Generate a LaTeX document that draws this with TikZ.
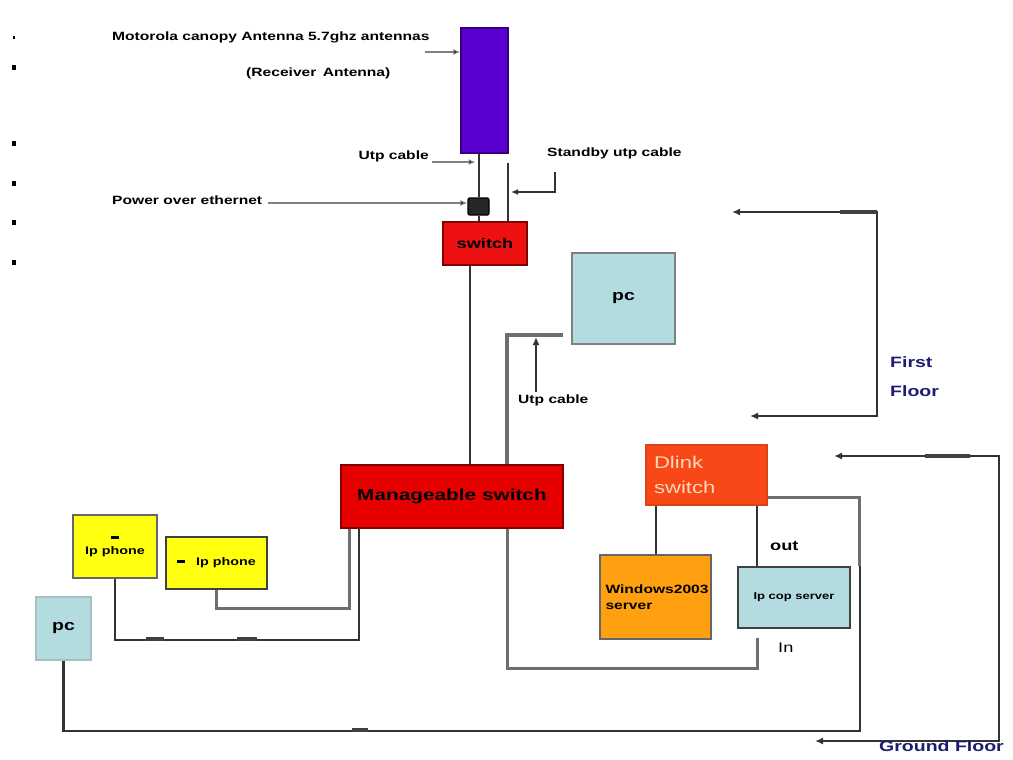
\documentclass[tikz,border=0pt]{standalone}
\usepackage{fontspec}
\setmainfont{Liberation Sans}
\newfontfamily\wf[FakeStretch=1.3]{Liberation Sans}
\usetikzlibrary{arrows.meta,calc}
\definecolor{antpurple}{HTML}{5A00D0}
\definecolor{swred}{HTML}{EE1111}
\definecolor{mgred}{HTML}{E60000}
\definecolor{pcblue}{HTML}{B3DCE0}
\definecolor{phyellow}{HTML}{FFFF10}
\definecolor{dlorange}{HTML}{F84818}
\definecolor{winorange}{HTML}{FFA010}
\definecolor{navytxt}{HTML}{1C1C70}
\definecolor{wirec}{HTML}{333333}
\definecolor{gwirec}{HTML}{6E6E6E}
\definecolor{peach}{HTML}{FFD8BC}
\begin{document}
\begin{tikzpicture}[x=1pt,y=-1pt,
  box/.style={draw=black!70, line width=1.4pt, inner sep=0pt, align=center},
  lbl/.style={font=\wf\bfseries\fontsize{12}{13}\selectfont, inner sep=0pt},
  wire/.style={draw=wirec, line width=2pt},
  gwire/.style={draw=gwirec, line width=3.4pt},
  arr/.style={draw=wirec, line width=2pt, {Latex[length=8pt,width=7pt]}-{Latex[length=8pt,width=7pt]}},
  thinarr/.style={draw=gray, line width=1.1pt, -{Latex[length=7pt,width=6pt,fill=black]}},
  blk/.style={draw=black!75, line width=4.2pt}]
\useasboundingbox (0,0) rectangle (1013,760);

% bullets
\fill (12.5,36) rectangle (15,39);
\foreach \yy in {68,143,183,222,262} \fill (12,\yy-2.5) rectangle (16,\yy+2.5);

% boxes
\node[box, fill=antpurple, draw=antpurple!60!black, minimum width=47pt, minimum height=125pt] (ant) at (484.5,90.5) {};
\node[box, fill=swred, draw=red!50!black, minimum width=84pt, minimum height=43pt, font=\wf\bfseries\fontsize{14}{15}\selectfont] (sw) at (485,243.5) {switch};
\node[box, fill=pcblue, draw=gray, minimum width=103pt, minimum height=91pt, font=\wf\bfseries\fontsize{15}{16}\selectfont] (pcT) at (623.5,298.5) {pc};
\node[box, fill=mgred, draw=red!50!black, minimum width=222pt, minimum height=63pt, font=\wf\bfseries\fontsize{16}{17}\selectfont] (mgmt) at (452,496.5) {Manageable switch};
\node[box, fill=phyellow, draw=black!60, minimum width=84pt, minimum height=63pt, font=\wf\bfseries\fontsize{11}{16}\selectfont] (phone1) at (115,546.5) {\rule{8pt}{3pt}\\Ip phone};
\node[box, fill=phyellow, draw=black!75, line width=1.8pt, minimum width=101pt, minimum height=52pt, font=\wf\bfseries\fontsize{11}{12}\selectfont] (phone2) at (216.5,563) {\rule[2.5pt]{8pt}{3pt}\quad Ip phone};
\node[box, fill=pcblue, draw=pcblue!70!gray, minimum width=55pt, minimum height=63pt, font=\wf\bfseries\fontsize{15}{16}\selectfont] (pcBL) at (63.5,628.5) {pc};
\node[box, fill=dlorange, draw=dlorange!90!black, minimum width=121pt, minimum height=60pt, text width=105pt, align=left, text=peach, font=\wf\fontsize{17}{25}\selectfont] (dlink) at (706.5,475) {Dlink\\switch};
\node[box, fill=winorange, draw=black!60, minimum width=111pt, minimum height=84pt, text width=100pt, align=left, font=\wf\bfseries\fontsize{12}{16}\selectfont] (win) at (655.5,597) {Windows2003\\server};
\node[box, fill=pcblue, draw=black!75, line width=1.8pt, minimum width=112pt, minimum height=61pt, font=\wf\bfseries\fontsize{10}{11}\selectfont] (ipcop) at (794,597.5) {Ip cop server};
\node[box, fill=black!85, draw=black, rounded corners=2pt, minimum width=21pt, minimum height=17pt] (poe) at (478.5,206.5) {};

% coordinates
\coordinate (motA) at (425,52);
\coordinate (utpA) at (432,162);
\coordinate (sbtop) at (508,163);
\coordinate (sbb) at (555,172);
\coordinate (sbc) at (511,192);
\coordinate (poeA) at (268,203);
\coordinate (pcw) at (563,335);
\coordinate (mgx) at (507,0);
\coordinate (utp2) at (536,392);
\coordinate (ipo) at ($(ipcop.north west)+(20,0)$);
\coordinate (ipi) at ($(ipcop.south west)+(20,9)$);
\coordinate (ffa) at (732,212);
\coordinate (ff1) at (877,212);
\coordinate (ff2) at (877,416);
\coordinate (ffb) at (750,416);
\coordinate (gfa) at (834,456);
\coordinate (gf1) at (999,456);
\coordinate (gf2) at (999,741);
\coordinate (gfb) at (815,741);

% connectors at top
\draw[thinarr] (motA) -- (ant.west |- motA);
\draw[wire] (poe |- ant.south) -- (poe.north);
\draw[wire] (poe.south) -- (poe |- sw.north);
\draw[thinarr] (utpA) -- ([xshift=-3pt]poe |- utpA);
\draw[wire, line width=1.6pt] (sbtop) -- (sbtop |- sw.north);
\draw[draw=wirec, line width=1.5pt, -{Latex[length=7pt,width=6pt]}] (sbb) |- (sbc);
\draw[thinarr] (poeA) -- (poe.west |- poeA);
\draw[wire] ([xshift=-15pt]sw.south) -- ([xshift=-15pt]sw.south |- mgmt.north);
\draw[gwire] (pcw) -| (mgx |- mgmt.north);
\draw[draw=wirec, line width=1.6pt, -{Latex[length=8pt,width=7pt]}] (utp2) -- ([yshift=-2pt]utp2 |- pcw);

% lower connectors
\draw[gwire] (phone2.south) |- ($(mgmt.south west)+(9,80)$) -- ($(mgmt.south west)+(9,0)$);
\draw[wire] (phone1.south) |- ($(mgmt.south west)+(19,111)$) -- ($(mgmt.south west)+(19,0)$);
\draw[wire, line width=2.4pt] (pcBL.south) |- ($(dlink.south east)+(92,225)$) |- ($(dlink.south east)+(0,-8)$);
\draw[gwire, line width=3pt] ($(dlink.south east)+(0,-8)$) -- ($(dlink.south east)+(92,-8)$) -- ($(dlink.south east)+(92,60)$);
\draw[gwire, line width=3pt] (mgx |- mgmt.south) |- ($(ipcop.south west)+(20,40)$) -- (ipi);
\draw[wire] (win.north |- dlink.south) -- (win.north);
\draw[wire, line width=1.6pt] (ipo |- dlink.south) -- (ipo);

% floor arrows
\draw[arr] (ffa) -- (ff1) -- (ff2) -- (ffb);
\draw[arr] (gfa) -- (gf1) -- (gf2) -- (gfb);

% thick marks
\draw[blk] (840,212) -- (877,212);
\draw[blk] (925,456) -- (970,456);
\draw[blk] (352,730) -- (368,730);
\draw[blk] (146,639) -- (164,639);
\draw[blk] (237,639) -- (257,639);

% labels
\node[lbl, anchor=west] (tmot) at (112,37) {Motorola canopy Antenna 5.7ghz antennas};
\node[lbl, anchor=west] (trec) at (246,73) {(Receiver\, Antenna)};
\node[lbl, anchor=east] (tutp) at (429,156) {Utp cable};
\node[lbl, anchor=west] (tsb) at (547,153) {Standby utp cable};
\node[lbl, anchor=west] (tpoe) at (112,200) {Power over ethernet};
\node[lbl, anchor=west] (tutp2) at (518,400) {Utp cable};
\node[lbl, anchor=west, align=left, text=navytxt, font=\wf\bfseries\fontsize{15}{29}\selectfont] (tff) at (890,377) {First\\Floor};
\node[lbl, anchor=west, text=navytxt, font=\wf\bfseries\fontsize{15}{16}\selectfont] (tgf) at (879,746) {Ground Floor};
\node[lbl, anchor=west, font=\wf\bfseries\fontsize{14}{15}\selectfont] (tout) at (770,546) {out};
\node[lbl, anchor=west, font=\wf\fontsize{14}{15}\selectfont] (tin) at (778,648) {In};
\end{tikzpicture}
\end{document}
